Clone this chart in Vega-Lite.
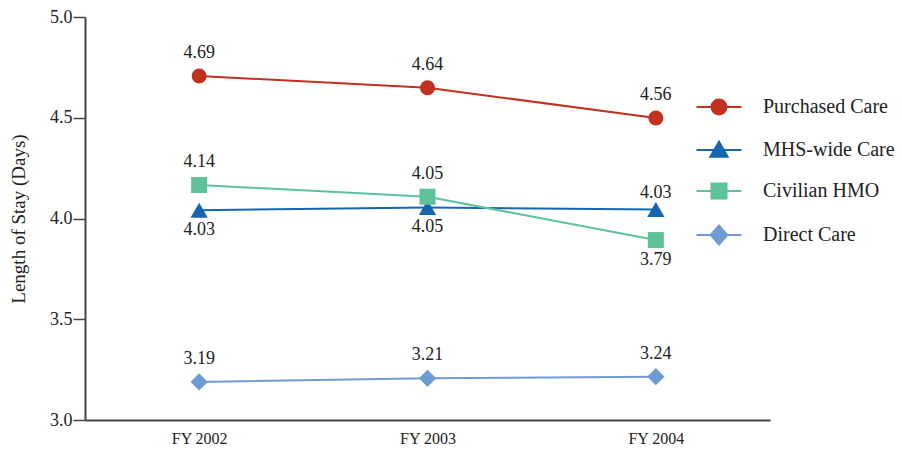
{
  "$schema": "https://vega.github.io/schema/vega-lite/v6.json",
  "width": 685,
  "height": 403,
  "autosize": {"type": "none"},
  "padding": {"left": 85, "top": 17, "right": 132, "bottom": 31},
  "background": "white",
  "config": {
    "view": {"stroke": null},
    "font": "Liberation Serif",
    "text": {"font": "Liberation Serif"}
  },
  "data": {
    "values": [
      {"year": "FY 2002", "series": "Purchased Care", "value": 4.707, "label": "4.69", "place": "above"},
      {"year": "FY 2003", "series": "Purchased Care", "value": 4.649, "label": "4.64", "place": "above"},
      {"year": "FY 2004", "series": "Purchased Care", "value": 4.499, "label": "4.56", "place": "above"},
      {"year": "FY 2002", "series": "MHS-wide Care", "value": 4.041, "label": "4.03", "place": "below"},
      {"year": "FY 2003", "series": "MHS-wide Care", "value": 4.055, "label": "4.05", "place": "below"},
      {"year": "FY 2004", "series": "MHS-wide Care", "value": 4.045, "label": "4.03", "place": "near"},
      {"year": "FY 2002", "series": "Civilian HMO", "value": 4.166, "label": "4.14", "place": "above"},
      {"year": "FY 2003", "series": "Civilian HMO", "value": 4.108, "label": "4.05", "place": "above"},
      {"year": "FY 2004", "series": "Civilian HMO", "value": 3.893, "label": "3.79", "place": "below"},
      {"year": "FY 2002", "series": "Direct Care", "value": 3.189, "label": "3.19", "place": "above"},
      {"year": "FY 2003", "series": "Direct Care", "value": 3.207, "label": "3.21", "place": "above"},
      {"year": "FY 2004", "series": "Direct Care", "value": 3.215, "label": "3.24", "place": "above"}
    ]
  },
  "encoding": {
    "x": {
      "field": "year", "type": "ordinal",
      "scale": {"type": "point", "padding": 0.5},
      "axis": {
        "title": null, "labelAngle": 0, "ticks": false,
        "domainColor": "#444", "domainWidth": 2,
        "labelFont": "Liberation Serif", "labelFontSize": 16, "labelColor": "#222",
        "labelPadding": 10, "grid": false
      }
    },
    "y": {
      "field": "value", "type": "quantitative",
      "scale": {"domain": [3, 5], "zero": false, "nice": false},
      "axis": {
        "title": "Length of Stay (Days)",
        "values": [3, 3.5, 4, 4.5, 5], "format": ".1f",
        "grid": false, "tickSize": 12, "tickColor": "#444", "tickWidth": 1.5,
        "domainColor": "#444", "domainWidth": 2,
        "labelFont": "Liberation Serif", "labelFontSize": 18, "labelColor": "#222", "labelPadding": 1,
        "titleFont": "Liberation Serif", "titleFontSize": 19, "titleFontWeight": "normal", "titleColor": "#222",
        "titlePadding": 21
      }
    },
    "color": {
      "field": "series", "type": "nominal",
      "scale": {
        "domain": ["Purchased Care", "MHS-wide Care", "Civilian HMO", "Direct Care"],
        "range": ["#C0311F", "#1565B0", "#5DC29A", "#6F9BD4"]
      },
      "legend": {
        "title": null,
        "orient": "none",
        "legendX": 624,
        "legendY": 80,
        "symbolSize": 225,
        "symbolStrokeWidth": 2,
        "symbolOpacity": 1,
        "labelFont": "Liberation Serif",
        "labelFontSize": 20,
        "labelColor": "#222",
        "labelOffset": 34,
        "rowPadding": 18,
        "padding": 0
      }
    }
  },
  "layer": [
    {
      "mark": {"type": "line", "strokeWidth": 2},
      "encoding": {"detail": {"field": "series"}}
    },
    {
      "transform": [{"filter": "datum.series === 'Purchased Care'"}],
      "mark": {"type": "point", "filled": true, "opacity": 1, "size": 225, "shape": "circle"}
    },
    {
      "transform": [{"filter": "datum.series === 'MHS-wide Care'"}],
      "mark": {"type": "point", "filled": true, "opacity": 1, "size": 300, "shape": "triangle-up"}
    },
    {
      "transform": [{"filter": "datum.series === 'Civilian HMO'"}],
      "mark": {"type": "point", "filled": true, "opacity": 1, "size": 256, "shape": "square"}
    },
    {
      "transform": [{"filter": "datum.series === 'Direct Care'"}],
      "mark": {"type": "point", "filled": true, "opacity": 1, "size": 300, "shape": "diamond"}
    },
    {
      "mark": {"type": "point", "filled": true, "opacity": 1, "size": 0},
      "encoding": {
        "stroke": {
          "field": "series", "type": "nominal",
          "scale": {
            "domain": ["Purchased Care", "MHS-wide Care", "Civilian HMO", "Direct Care"],
            "range": ["#C0311F", "#1565B0", "#5DC29A", "#6F9BD4"]
          }
        },
        "shape": {
          "field": "series", "type": "nominal",
          "scale": {
            "domain": ["Purchased Care", "MHS-wide Care", "Civilian HMO", "Direct Care"],
            "range": [
              "M-3,0H3M-1,0A1,1 0 1 1 1,0A1,1 0 1 1 -1,0Z",
              "M-3,0H3M0,-1.1L1.15,0.9L-1.15,0.9Z",
              "M-3,0H3M-1,-1H1V1H-1Z",
              "M-3,0H3M-1.1,0L0,-1.25L1.1,0L0,1.25Z"
            ]
          }
        }
      }
    },
    {
      "transform": [{"filter": "datum.place === 'above'"}],
      "mark": {"type": "text", "dy": -23, "font": "Liberation Serif", "fontSize": 18, "baseline": "middle"},
      "encoding": {"text": {"field": "label"}, "color": {"value": "#222"}}
    },
    {
      "transform": [{"filter": "datum.place === 'below'"}],
      "mark": {"type": "text", "dy": 20, "font": "Liberation Serif", "fontSize": 18, "baseline": "middle"},
      "encoding": {"text": {"field": "label"}, "color": {"value": "#222"}}
    },
    {
      "transform": [{"filter": "datum.place === 'near'"}],
      "mark": {"type": "text", "dy": -16, "font": "Liberation Serif", "fontSize": 18, "baseline": "middle"},
      "encoding": {"text": {"field": "label"}, "color": {"value": "#222"}}
    }
  ]
}
